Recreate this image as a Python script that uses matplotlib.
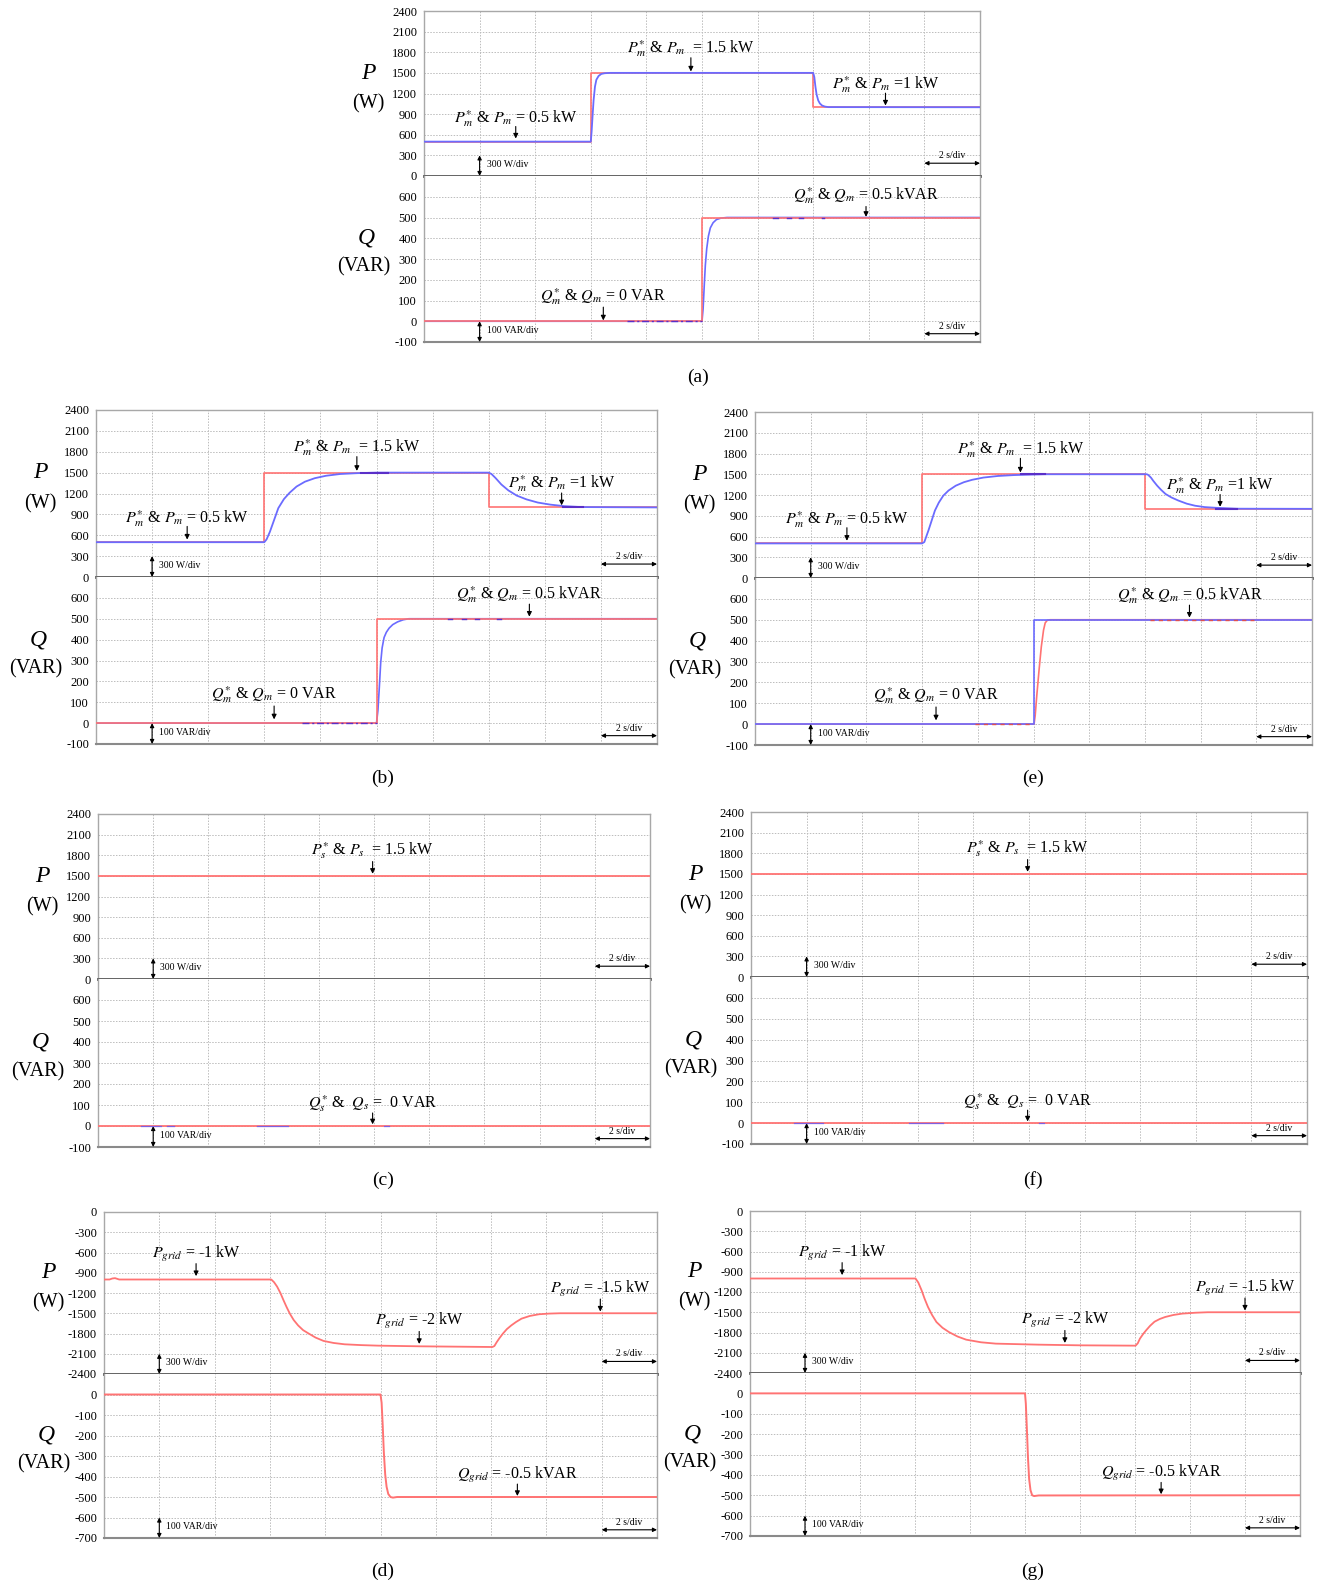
import matplotlib
matplotlib.use("Agg")
import matplotlib.pyplot as plt

plt.rcParams['font.family'] = ['Liberation Serif', 'DejaVu Serif']
plt.rcParams['mathtext.fontset'] = 'stix'
plt.rcParams['axes.unicode_minus'] = False

# ---------------------------------------------------------------- data
time_ticks = [0, 2, 4, 6, 8, 10, 12, 14, 16, 18, 20]
p_ticks_pos = [0, 300, 600, 900, 1200, 1500, 1800, 2100, 2400]
q_ticks_pos = [-100, 0, 100, 200, 300, 400, 500, 600]
p_ticks_neg = [-2400, -2100, -1800, -1500, -1200, -900, -600, -300, 0]
q_ticks_neg = [-700, -600, -500, -400, -300, -200, -100, 0]

# (a) grid-connected, fast controller
a_P_ref_t = [0, 6, 6, 14, 14, 20]
a_P_ref_v = [500, 500, 1500, 1500, 1000, 1000]
a_P_meas_t = [0, 6.0, 6.03, 6.06, 6.1, 6.15, 6.2, 6.28, 6.38, 6.5, 6.7,
              14.0, 14.04, 14.08, 14.12, 14.18, 14.24, 14.32, 14.42, 14.55, 20]
a_P_meas_v = [500, 500, 650, 850, 1100, 1300, 1400, 1455, 1485, 1495, 1500,
              1500, 1440, 1300, 1190, 1100, 1055, 1025, 1010, 1002, 1000]
a_Q_ref_t = [0, 10, 10, 20]
a_Q_ref_v = [0, 0, 500, 500]
a_Q_meas_t = [0, 10.0, 10.04, 10.08, 10.12, 10.17, 10.23, 10.3, 10.4, 10.52, 10.68, 10.9, 11.1, 20]
a_Q_meas_v = [0, 0, 60, 170, 270, 350, 410, 450, 475, 490, 497, 500, 500, 500]

# (b)
b_P_ref_t = [0, 6, 6, 14, 14, 20]
b_P_ref_v = [500, 500, 1500, 1500, 1000, 1000]
b_P_meas_t = [0, 6.0, 6.08, 6.2, 6.35, 6.5, 6.7, 6.9, 7.15, 7.45, 7.8, 8.2, 8.7, 9.3, 10.0,
              14.0, 14.1, 14.25, 14.45, 14.7, 15.0, 15.35, 15.75, 16.2, 16.7, 17.3, 20]
b_P_meas_v = [500, 500, 540, 650, 820, 990, 1120, 1210, 1300, 1370, 1420, 1455, 1480, 1492, 1500,
              1500, 1480, 1420, 1330, 1245, 1170, 1115, 1070, 1040, 1018, 1005, 1000]
b_Q_ref_t = [0, 10, 10, 20]
b_Q_ref_v = [0, 0, 500, 500]
b_Q_meas_t = [0, 10.0, 10.05, 10.1, 10.15, 10.2, 10.27, 10.35, 10.45, 10.58, 10.75, 10.95, 11.15, 20]
b_Q_meas_v = [0, 0, 60, 170, 290, 360, 410, 435, 455, 472, 485, 495, 500, 500]

# (e)
e_P_ref_t = [0, 6, 6, 14, 14, 20]
e_P_ref_v = [500, 500, 1500, 1500, 1000, 1000]
e_P_meas_t = [0, 6.0, 6.08, 6.23, 6.46, 6.6, 6.76, 6.95, 7.21, 7.5, 7.8, 8.2, 8.72, 9.3, 9.92, 10.4,
              14.0, 14.07, 14.12, 14.22, 14.3, 14.44, 14.58, 14.74, 14.95, 15.2, 15.5, 15.8, 16.15,
              16.55, 17.3, 20]
e_P_meas_v = [500, 500, 520, 690, 975, 1090, 1190, 1265, 1335, 1385, 1420, 1452, 1475, 1488, 1495, 1500,
              1500, 1500, 1490, 1450, 1405, 1335, 1275, 1215, 1165, 1120, 1075, 1045, 1025,
              1015, 1002, 1000]
e_Q_ref_t = [0, 10, 10, 20]
e_Q_ref_v = [0, 0, 500, 500]
e_Q_meas_t = [0, 10.02, 10.06, 10.12, 10.2, 10.28, 10.36, 10.42, 10.5, 10.6, 20]
e_Q_meas_v = [0, 0, 40, 140, 260, 370, 450, 485, 498, 500, 500]

# (c), (f) constant set-points
c_P_t = [0, 20]
c_P_v = [1500, 1500]
c_Q_t = [0, 20]
c_Q_v = [0, 0]
f_P_t = [0, 20]
f_P_v = [1500, 1500]
f_Q_t = [0, 20]
f_Q_v = [0, 0]

# (d), (g) grid powers
d_P_t = [0, 0.2, 0.3, 0.4, 0.55, 6.05, 6.15, 6.26, 6.38, 6.49, 6.6, 6.72, 6.86, 7.02, 7.2, 7.4,
         7.65, 7.94, 8.3, 8.7, 9.3, 9.92, 11.45, 14.05, 14.12, 14.2, 14.3, 14.43, 14.57, 14.73,
         14.9, 15.1, 15.4, 15.73, 16.1, 16.5, 20]
d_P_v = [-1000, -1000, -985, -980, -1000, -1000, -1040, -1105, -1200, -1305, -1405, -1505, -1600,
         -1680, -1750, -1800, -1860, -1910, -1940, -1960, -1972, -1980, -1990, -2000, -1985, -1930,
         -1870, -1800, -1735, -1680, -1630, -1580, -1540, -1515, -1505, -1500, -1500]
d_Q_t = [0, 10.0, 10.04, 10.08, 10.12, 10.17, 10.22, 10.28, 10.36, 10.45, 10.6, 20]
d_Q_v = [0, 0, -40, -150, -280, -390, -450, -485, -500, -503, -500, -500]

g_P_t = [0, 6.02, 6.12, 6.24, 6.35, 6.47, 6.62, 6.78, 7.0, 7.24, 7.55, 7.86, 8.4, 8.94, 10.48,
         12.0, 14.02, 14.1, 14.18, 14.3, 14.41, 14.55, 14.71, 14.9, 15.1, 15.4, 15.72, 16.2, 16.64, 20]
g_P_v = [-1000, -1000, -1060, -1175, -1300, -1420, -1540, -1645, -1730, -1795, -1860, -1906,
         -1945, -1965, -1980, -1990, -1995, -1960, -1890, -1820, -1765, -1700, -1640, -1600,
         -1570, -1540, -1520, -1507, -1500, -1500]
g_Q_t = [0, 10.0, 10.03, 10.07, 10.11, 10.15, 10.2, 10.26, 10.33, 10.5, 20]
g_Q_v = [0, 0, -50, -180, -320, -420, -475, -500, -504, -501, -500]

# short overlapping trace fragments (start, end, level)
a_Q_frag = [(7.3, 10.0, 0), (12.55, 12.75, 500), (13.05, 13.2, 500), (13.5, 13.65, 500), (14.3, 14.4, 500)]
b_P_frag = [(9.45, 10.4, 1500), (16.65, 17.35, 1000)]
b_Q_frag = [(7.35, 10.0, 0), (12.55, 12.7, 500), (13.05, 13.2, 500), (13.5, 13.65, 500), (14.3, 14.45, 500)]
e_P_frag = [(9.55, 10.4, 1500), (16.55, 17.3, 1000)]
e_Q_frag = [(7.9, 9.9, 0), (14.2, 17.9, 500)]
c_Q_frag = [(1.55, 2.3, 0), (2.5, 2.75, 0), (5.75, 6.9, 0), (10.35, 10.55, 0)]
f_Q_frag = [(1.55, 2.6, 0), (5.7, 6.9, 0), (10.35, 10.55, 0)]

# ---------------------------------------------------------------- style / layout
W, H = 1320, 1587
fig = plt.figure(figsize=(W / 100, H / 100), dpi=100)

RED = '#ff7373'
BLUE = '#6b6bff'
DARK = '#5a2fc8'
FRAG = '#8060e0'
GRID = '#bcbcbc'

# pixel boxes: left, right, top, mid, bottom
boxes = {
    'a': (424, 980, 11, 176, 342),
    'b': (96, 657, 410, 577, 744),
    'e': (755, 1312, 412, 578, 745),
    'c': (98, 650, 814, 979, 1147),
    'f': (751, 1307, 812, 977, 1144),
    'd': (104, 657, 1212, 1374, 1538),
    'g': (750, 1300, 1211, 1373, 1536),
}
captions = {'a': (698, 377), 'b': (383, 778), 'e': (1033, 778), 'c': (383, 1180),
            'f': (1033, 1180), 'd': (383, 1571), 'g': (1033, 1571)}


def make_axes(key, neg=False):
    l, r, t, m, b = boxes[key]
    axP = fig.add_axes([l / W, 1 - m / H, (r - l) / W, (m - t) / H])
    axQ = fig.add_axes([l / W, 1 - b / H, (r - l) / W, (b - m) / H])
    if neg:
        axP.set_ylim(-2400, 0); axP.set_yticks(p_ticks_neg)
        axQ.set_ylim(-700, 100); axQ.set_yticks(q_ticks_neg)
    else:
        axP.set_ylim(0, 2400); axP.set_yticks(p_ticks_pos)
        axQ.set_ylim(-100, 700); axQ.set_yticks(q_ticks_pos)
    for ax in (axP, axQ):
        ax.set_xlim(0, 20)
        ax.set_xticks(time_ticks)
        ax.set_xticklabels([])
        ax.tick_params(length=0, labelsize=9, pad=5)
        ax.grid(True, color=GRID, linestyle=(0, (1.5, 1.5)), linewidth=0.7)
        ax.set_axisbelow(True)
        for s in ('left', 'right', 'top'):
            ax.spines[s].set_color('#a8a8a8')
            ax.spines[s].set_linewidth(1.0)
    axP.spines['bottom'].set_color('#555555')
    axP.spines['bottom'].set_linewidth(2.0)
    axP.spines['bottom'].set_zorder(5)
    axQ.spines['top'].set_visible(False)
    axQ.spines['bottom'].set_color('#8a8a8a')
    axQ.spines['bottom'].set_linewidth(1.5)
    # axis labels
    fig.text((l - 56) / W, 1 - (t + 0.376 * (m - t)) / H, 'P', fontsize=17, style='italic',
             ha='center', va='center')
    fig.text((l - 56) / W, 1 - (t + 0.56 * (m - t)) / H, '(W)', fontsize=14.5,
             ha='center', va='center')
    fig.text((l - 58) / W, 1 - (m + 0.375 * (b - m)) / H, 'Q', fontsize=17, style='italic',
             ha='center', va='center')
    fig.text((l - 60) / W, 1 - (m + 0.55 * (b - m)) / H, '(VAR)', fontsize=14.5,
             ha='center', va='center')
    cx, cy = captions[key]
    fig.text(cx / W, 1 - cy / H, '(%s)' % key, fontsize=14, ha='center', va='center')
    return axP, axQ


def scale_marks(axP, axQ, neg=False):
    pb = -2400 if neg else 0
    qb = -700 if neg else -100
    arr2 = dict(arrowstyle='<|-|>', color='k', lw=0.8, mutation_scale=6, shrinkA=0, shrinkB=0)
    axP.annotate('', xy=(2, pb + 300), xytext=(2, pb), arrowprops=arr2, annotation_clip=False)
    axP.text(2.25, pb + 0.57 * 300, '300 W/div', fontsize=7, va='center', ha='left')
    axQ.annotate('', xy=(2, qb + 100), xytext=(2, qb), arrowprops=arr2, annotation_clip=False)
    axQ.text(2.25, qb + 0.56 * 100, '100 VAR/div', fontsize=7, va='center', ha='left')
    axP.annotate('', xy=(20, pb + 0.62 * 300), xytext=(18, pb + 0.62 * 300), arrowprops=arr2,
                 annotation_clip=False)
    axP.text(19.0, pb + 1.0 * 300, '2 s/div', fontsize=7, va='center', ha='center')
    axQ.annotate('', xy=(20, qb + 0.40 * 100), xytext=(18, qb + 0.40 * 100), arrowprops=arr2,
                 annotation_clip=False)
    axQ.text(19.0, qb + 0.76 * 100, '2 s/div', fontsize=7, va='center', ha='center')


def label(ax, text, x, ytxt, y0, y1):
    ax.text(x, ytxt, text, fontsize=11.5, ha='center', va='center')
    ax.annotate('', xy=(x, y1), xytext=(x, y0),
                arrowprops=dict(arrowstyle='-|>', color='k', lw=0.8, mutation_scale=7,
                                shrinkA=0, shrinkB=0))


def frags(ax, segs, color, ls='-', lw=1.3):
    for t0, t1, v in segs:
        ax.plot([t0, t1], [v, v], color=color, lw=lw, linestyle=ls, zorder=4)


PM15 = r'$P_m^{*}$ & $P_m$  = 1.5 kW'
PM05 = r'$P_m^{*}$ & $P_m$ = 0.5 kW'
PM1 = r'$P_m^{*}$ & $P_m$ =1 kW'
QM05 = r'$Q_m^{*}$ & $Q_m$ = 0.5 kVAR'
QM0 = r'$Q_m^{*}$ & $Q_m$ = 0 VAR'

# ---------------------------------------------------------------- (a)
axP, axQ = make_axes('a')
axP.plot(a_P_ref_t, a_P_ref_v, color=RED, lw=1.2, zorder=2)
axP.plot(a_P_meas_t, a_P_meas_v, color=BLUE, lw=1.3, zorder=3)
axQ.plot(a_Q_meas_t, a_Q_meas_v, color=BLUE, lw=1.2, zorder=2)
axQ.plot(a_Q_ref_t, a_Q_ref_v, color=RED, lw=1.2, zorder=3)
frags(axQ, a_Q_frag[:1], DARK, ls=(0, (5, 2, 1.5, 2)), lw=1.0)
frags(axQ, a_Q_frag[1:], DARK, lw=1.0)
label(axP, PM15, 9.6, 1860, 1720, 1520)
label(axP, PM05, 3.3, 840, 720, 545)
label(axP, PM1, 16.6, 1325, 1205, 1025)
label(axQ, QM05, 15.9, 607, 553, 503)
label(axQ, QM0, 6.45, 117, 68, 4)
scale_marks(axP, axQ)

# ---------------------------------------------------------------- (b)
axP, axQ = make_axes('b')
axP.plot(b_P_ref_t, b_P_ref_v, color=RED, lw=1.2, zorder=2)
axP.plot(b_P_meas_t, b_P_meas_v, color=BLUE, lw=1.3, zorder=3)
frags(axP, b_P_frag, DARK, lw=1.5)
axQ.plot(b_Q_meas_t, b_Q_meas_v, color=BLUE, lw=1.2, zorder=2)
axQ.plot(b_Q_ref_t, b_Q_ref_v, color=RED, lw=1.2, zorder=3)
frags(axQ, b_Q_frag[:1], DARK, ls=(0, (5, 2, 1.5, 2)), lw=1.0)
frags(axQ, b_Q_frag[1:], DARK, lw=1.0)
label(axP, PM15, 9.3, 1862, 1730, 1525)
label(axP, PM05, 3.25, 844, 727, 538)
label(axP, PM1, 16.6, 1338, 1207, 1030)
label(axQ, QM05, 15.45, 618, 570, 510)
label(axQ, QM0, 6.35, 135, 82, 18)
scale_marks(axP, axQ)

# ---------------------------------------------------------------- (e)
axP, axQ = make_axes('e')
axP.plot(e_P_ref_t, e_P_ref_v, color=RED, lw=1.2, zorder=2)
axP.plot(e_P_meas_t, e_P_meas_v, color=BLUE, lw=1.3, zorder=3)
frags(axP, e_P_frag, DARK, lw=1.5)
axQ.plot(e_Q_meas_t, e_Q_meas_v, color=RED, lw=1.2, zorder=2)
axQ.plot(e_Q_ref_t, e_Q_ref_v, color=BLUE, lw=1.2, zorder=3)
frags(axQ, e_Q_frag, '#e05050', ls=(0, (3, 3)), lw=1.0)
label(axP, PM15, 9.53, 1862, 1730, 1525)
label(axP, PM05, 3.3, 844, 727, 538)
label(axP, PM1, 16.7, 1338, 1207, 1030)
label(axQ, QM05, 15.6, 618, 570, 510)
label(axQ, QM0, 6.5, 135, 82, 18)
scale_marks(axP, axQ)

# ---------------------------------------------------------------- (c)
PS15 = r'$P_s^{*}$ & $P_s$  = 1.5 kW'
QS0 = r'$Q_s^{*}$ &  $Q_s$ =  0 VAR'
axP, axQ = make_axes('c')
axP.plot(c_P_t, c_P_v, color=RED, lw=1.3, zorder=3)
axQ.plot(c_Q_t, c_Q_v, color=RED, lw=1.3, zorder=3)
frags(axQ, c_Q_frag, FRAG, lw=0.9)
label(axP, PS15, 9.95, 1870, 1708, 1530)
label(axQ, QS0, 9.95, 105, 62, 8)
scale_marks(axP, axQ)

# ---------------------------------------------------------------- (f)
axP, axQ = make_axes('f')
axP.plot(f_P_t, f_P_v, color=RED, lw=1.3, zorder=3)
axQ.plot(f_Q_t, f_Q_v, color=RED, lw=1.3, zorder=3)
frags(axQ, f_Q_frag, FRAG, lw=0.9)
label(axP, PS15, 9.95, 1870, 1708, 1530)
label(axQ, QS0, 9.95, 105, 62, 8)
scale_marks(axP, axQ)

# ---------------------------------------------------------------- (d)
PG1 = r'$P_{grid}$ = -1 kW'
PG2 = r'$P_{grid}$ = -2 kW'
PG15 = r'$P_{grid}$ = -1.5 kW'
QG05 = r'$Q_{grid}$ = -0.5 kVAR'
axP, axQ = make_axes('d', neg=True)
axP.plot(d_P_t, d_P_v, color=RED, lw=1.3, zorder=3)
axQ.plot(d_Q_t, d_Q_v, color=RED, lw=1.4, zorder=3)
label(axP, PG1, 3.33, -615, -765, -950)
label(axP, PG2, 11.4, -1620, -1770, -1955)
label(axP, PG15, 17.95, -1140, -1290, -1475)
label(axQ, QG05, 14.95, -392, -437, -495)
scale_marks(axP, axQ, neg=True)

# ---------------------------------------------------------------- (g)
axP, axQ = make_axes('g', neg=True)
axP.plot(g_P_t, g_P_v, color=RED, lw=1.3, zorder=3)
axQ.plot(g_Q_t, g_Q_v, color=RED, lw=1.4, zorder=3)
label(axP, PG1, 3.35, -615, -765, -950)
label(axP, PG2, 11.45, -1620, -1770, -1955)
label(axP, PG15, 18.0, -1140, -1290, -1475)
label(axQ, QG05, 14.95, -392, -437, -495)
scale_marks(axP, axQ, neg=True)

fig.savefig('out.png', dpi=100, facecolor='white')
